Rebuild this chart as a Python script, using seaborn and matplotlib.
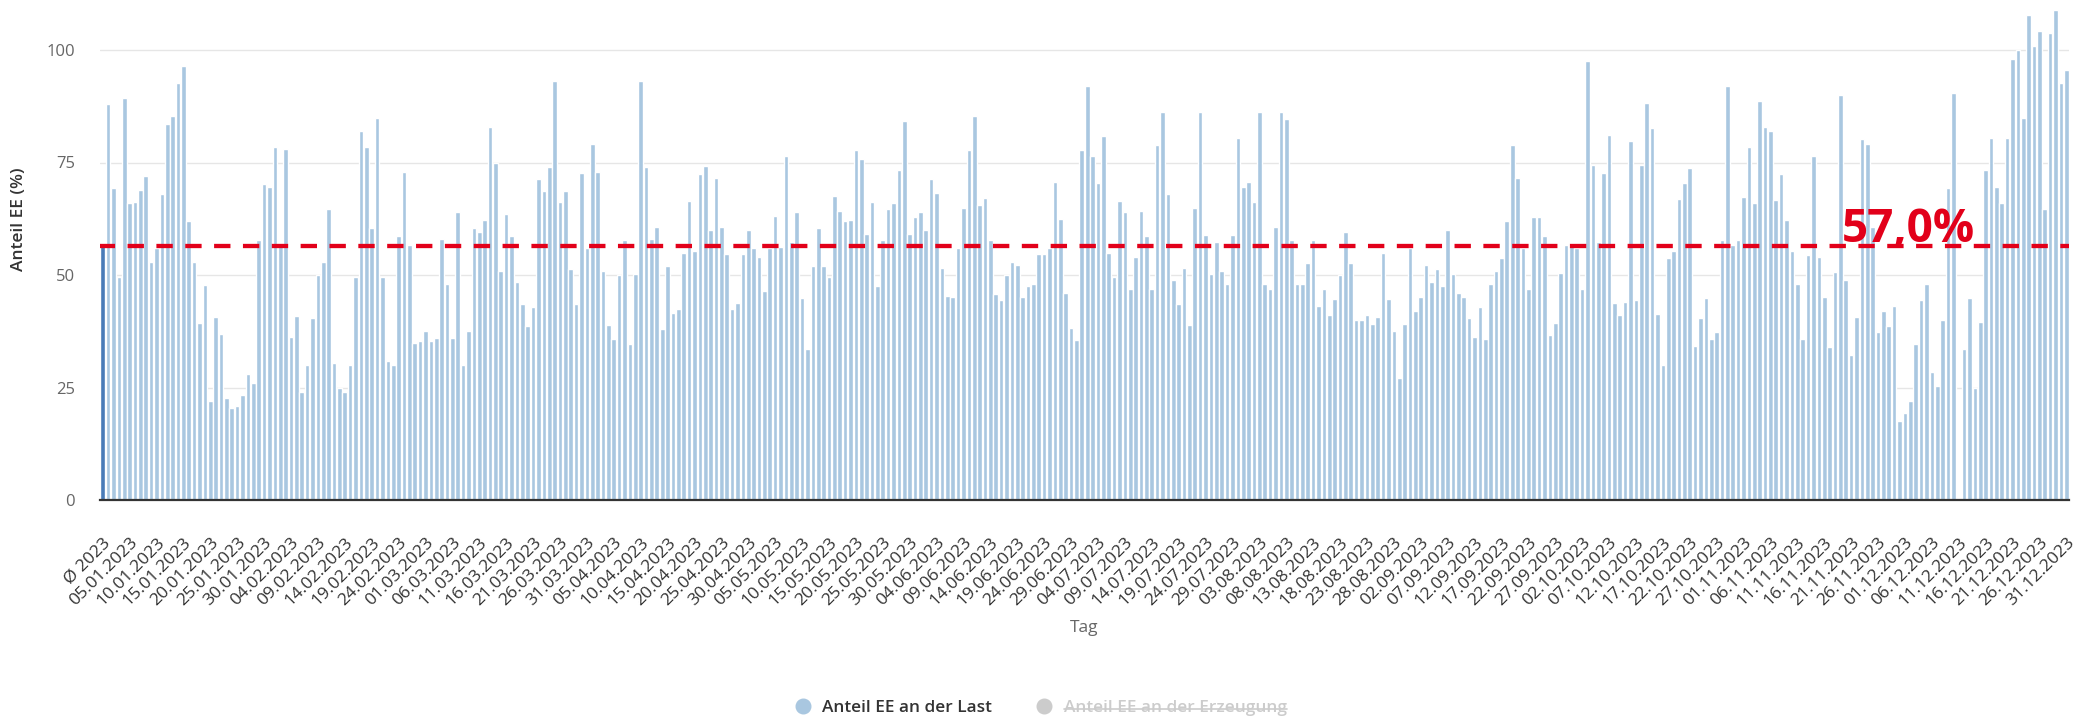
"""
Anteil erneuerbarer Energien an der Last, Tageswerte 2023
"""

import numpy as np
import pandas as pd
import matplotlib.pyplot as plt
from matplotlib.lines import Line2D
import seaborn as sns

# ── Daten ────────────────────────────────────────────────────────────────────
avg_label = "Ø 2023"
avg_value = 56.4
avg_text = "57,0%"

daily_values = [
    88.0, 69.3, 49.6, 89.4, 65.9, 66.3, 68.9, 72.0, 53.0, 56.1,
    68.0, 83.6, 85.3, 92.7, 96.4, 62.1, 53.0, 39.4, 47.8, 22.0,
    40.7, 37.0, 22.7, 20.4, 21.0, 23.3, 28.0, 26.1, 57.8, 70.3,
    69.6, 78.5, 57.0, 78.1, 36.3, 41.0, 24.1, 30.1, 40.4, 49.9,
    53.0, 64.6, 30.5, 25.0, 24.1, 30.1, 49.6, 81.9, 78.5, 60.5,
    85.0, 49.6, 30.9, 30.1, 58.7, 73.0, 56.7, 35.0, 35.3, 37.6,
    35.3, 35.9, 58.0, 47.9, 35.9, 63.9, 30.1, 37.6, 60.5, 59.5,
    62.2, 83.0, 74.8, 51.0, 63.6, 58.7, 48.5, 43.5, 38.7, 42.8,
    71.3, 68.7, 74.1, 93.1, 66.3, 68.7, 51.3, 43.5, 72.7, 56.1,
    79.1, 73.0, 51.0, 39.0, 35.7, 49.9, 57.8, 34.6, 50.2, 93.1,
    74.1, 58.0, 60.7, 38.0, 51.9, 41.5, 42.4, 55.0, 66.5, 55.3,
    72.4, 74.3, 60.1, 71.6, 60.7, 54.6, 42.4, 43.7, 54.6, 60.0,
    56.1, 53.9, 46.5, 55.9, 63.1, 56.3, 76.4, 57.4, 63.9, 44.8,
    33.6, 51.9, 60.5, 51.9, 49.6, 67.6, 64.2, 61.9, 62.2, 77.8,
    75.7, 59.1, 66.3, 47.6, 57.8, 64.6, 65.9, 73.3, 84.3, 59.1,
    62.8, 63.9, 59.9, 71.3, 68.3, 51.6, 45.4, 45.2, 56.1, 65.0,
    77.8, 85.3, 65.6, 67.2, 57.8, 45.8, 44.4, 49.9, 53.0, 52.2,
    45.2, 47.6, 48.1, 54.7, 54.7, 55.9, 70.7, 62.5, 46.1, 38.3,
    35.6, 77.8, 92.1, 76.4, 70.4, 80.9, 55.0, 49.6, 66.5, 63.9,
    46.8, 54.1, 64.2, 58.7, 46.8, 78.8, 86.3, 67.9, 48.9, 43.5,
    51.6, 39.0, 65.0, 86.3, 59.0, 50.2, 57.4, 51.0, 47.9, 59.0,
    80.5, 69.6, 70.7, 66.3, 86.3, 47.9, 46.8, 60.7, 86.3, 84.6,
    57.8, 47.9, 48.1, 52.6, 57.8, 43.1, 46.8, 41.1, 44.7, 49.9,
    59.5, 52.6, 40.1, 40.0, 41.1, 39.1, 40.7, 55.0, 44.6, 37.6,
    27.2, 39.1, 56.1, 41.9, 45.2, 52.2, 48.5, 51.3, 47.6, 60.1,
    50.2, 46.1, 45.2, 40.4, 36.3, 42.8, 35.7, 47.9, 51.0, 53.7,
    61.9, 78.8, 71.6, 55.9, 46.8, 62.8, 62.8, 58.7, 36.7, 39.3,
    50.5, 56.7, 57.0, 55.9, 46.8, 97.6, 74.4, 57.4, 72.7, 81.1,
    43.7, 41.1, 44.1, 79.8, 44.4, 74.4, 88.3, 82.6, 41.4, 30.1,
    53.7, 55.4, 66.9, 70.4, 73.7, 34.2, 40.4, 44.8, 35.7, 37.4,
    57.8, 92.1, 56.7, 57.8, 67.3, 78.5, 65.9, 88.7, 83.0, 81.9,
    66.7, 72.4, 62.2, 55.4, 47.9, 35.7, 54.4, 76.4, 54.1, 45.2,
    33.9, 50.6, 90.1, 48.9, 32.2, 40.7, 80.2, 79.1, 60.7, 37.4,
    42.1, 38.7, 43.1, 17.6, 19.4, 22.0, 34.7, 44.4, 48.1, 28.5,
    25.4, 40.0, 69.3, 90.4, np.nan, 33.6, 44.8, 25.0, 39.6, 73.3,
    80.5, 69.6, 65.9, 80.5, 97.9, 99.9, 85.0, 107.8, 101.0, 104.3,
    64.6, 103.7, 109.0, 92.7, 95.6,
]

dates = pd.date_range("2023-01-01", "2023-12-31", freq="D").strftime("%d.%m.%Y").tolist()

y_ticks = [0, 25, 50, 75, 100]
tick_step = 5

LIGHT = "#a9c7e0"
DARK = "#4a7cb8"
RED = "#e2001a"

sns.set_style("white")
plt.rcParams["font.family"] = ["Open Sans", "DejaVu Sans"]

df = pd.DataFrame({"tag": [avg_label] + dates, "anteil": [avg_value] + daily_values})

W, H = 2092, 718
fig = plt.figure(figsize=(W / 100, H / 100), dpi=100)
ax = fig.add_axes([100 / W, 1 - 500 / H, 1969 / W, 495 / H])

sns.barplot(data=df, x="tag", y="anteil", color=LIGHT, saturation=1,
            width=0.86, errorbar=None, ax=ax)
ax.patches[0].set_facecolor(DARK)

ax.axhline(avg_value, color=RED, lw=3.1, linestyle=(0.3, (3.8, 2.9)), zorder=5)
ax.text(323.3, avg_value + 1.0, avg_text, color=RED, fontsize=33, fontweight="bold",
        ha="left", va="baseline", zorder=6)

ax.set_xlim(-0.5, len(df) - 0.5)
ax.set_ylim(0, 110)
ax.set_yticks(y_ticks)
ax.yaxis.grid(True, color="#e6e6e6", lw=1)
ax.set_axisbelow(True)
for s in ["top", "right", "left"]:
    ax.spines[s].set_visible(False)
ax.spines["bottom"].set_color("#333333")
ax.spines["bottom"].set_linewidth(1.6)
ax.spines["bottom"].set_zorder(7)

pos = list(range(0, len(df), tick_step))
ax.set_xticks(pos)
ax.set_xticklabels([df["tag"][i] for i in pos], rotation=45, ha="right", va="top",
                   rotation_mode="anchor", fontsize=12.6, color="#333333")
ax.tick_params(axis="x", length=0, pad=25)
ax.tick_params(axis="y", length=0, pad=18, labelsize=12, labelcolor="#666666")

ax.set_xlabel("Tag", fontsize=12.5, color="#666666")
ax.xaxis.label.set_va("center")
ax.xaxis.set_label_coords(0.5, -(628 - 500) / 495)
ax.set_ylabel("Anteil EE (%)", fontsize=12.5, color="#333333", fontweight="semibold")
ax.yaxis.set_label_coords(-(100 - 27) / 1969, (500 - 219) / 495)

handles = [
    Line2D([], [], marker="o", ls="", color=LIGHT, markersize=10.5),
    Line2D([], [], marker="o", ls="", color="#cccccc", markersize=10.5),
]
leg = fig.legend(handles, ["Anteil EE an der Last", "Anteil EE an der Erzeugung"],
                 loc="center", bbox_to_anchor=(1036 / W, 1 - 708 / H), ncol=2,
                 frameon=False, handletextpad=0.15, columnspacing=2.0,
                 prop={"size": 12.4, "weight": "semibold"})
texts = leg.get_texts()
texts[0].set_color("#333333")
texts[1].set_color("#cccccc")

# Durchstreichen der ausgeblendeten Serie
fig.canvas.draw()
bb = texts[1].get_window_extent(fig.canvas.get_renderer()).transformed(fig.transFigure.inverted())
ymid = bb.y0 + bb.height * 0.42
fig.add_artist(Line2D([bb.x0, bb.x1], [ymid, ymid], transform=fig.transFigure,
                      color="#cccccc", lw=1.2))

fig.savefig("out.png", dpi=100)
plt.close(fig)
